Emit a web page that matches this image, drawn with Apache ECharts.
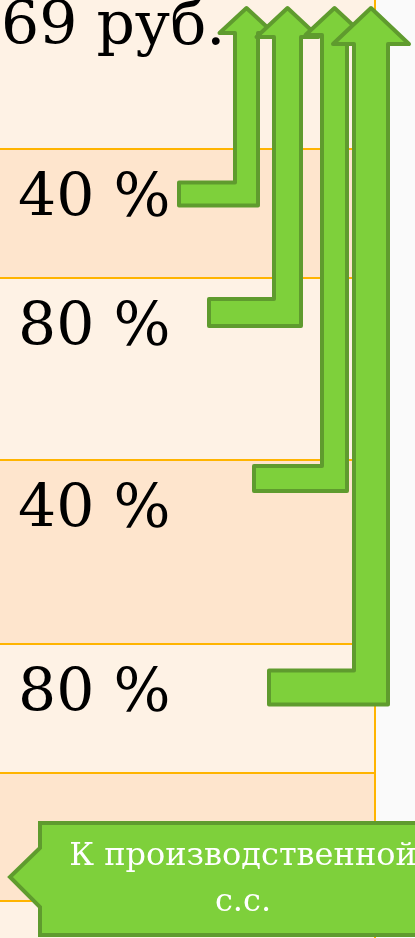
<!DOCTYPE html>
<html>
<head>
<meta charset="utf-8">
<script src="https://cdn.jsdelivr.net/npm/echarts@6/dist/echarts.min.js"></script>
<style>
  html, body { margin: 0; padding: 0; background: #fafafa; }
  #chart { width: 415px; height: 938px; }
</style>
</head>
<body>
<div id="chart"></div>
<script>
// table rows (slide units, y grows downwards)
const rowEdges = [-23, 149, 278, 460, 644, 773, 901, 960]
const rowLabels = ['69 руб.', '40 %', '80 %', '40 %', '80 %', '', '']
const labelIndent = [1, 18, 18, 18, 18, 18, 18]
const tableRight = 375

// bent-up arrows: foot start, foot level, shaft centre, thickness
const arrowFootX = [177, 207, 252, 267]
const arrowFootY = [194, 312.5, 478.5, 687.5]
const arrowShaftX = [246.5, 287.5, 334.5, 371]
const arrowWidth = [27, 31, 29, 38]
const arrowTipY = 6

// callout at the bottom
const calloutBox = [40, 823, 450, 935]
const calloutTip = [10, 877]
const calloutNeck = [848, 907]
const calloutLines = ['К производственной', 'с.с.']
const calloutLineY = [857, 903]
const calloutCenterX = 243

const serif = '"DejaVu Serif", "Liberation Serif", serif'
const cream = '#fef2e5'
const peach = '#fee5cd'
const rule = '#ffb400'
const green = '#7ed03b'
const greenDark = '#5f9b2e'

const chart = echarts.init(document.getElementById('chart'), null, { renderer: 'canvas' })

function rowFill(params, api) {
  const i = params.dataIndex
  const p0 = api.coord([0, rowEdges[i]])
  const p1 = api.coord([tableRight, rowEdges[i + 1]])
  const children = [
    {
      type: 'rect',
      shape: { x: p0[0], y: p0[1], width: p1[0] - p0[0], height: p1[1] - p0[1] },
      style: { fill: i % 2 === 0 ? cream : peach },
    },
  ]
  if (rowLabels[i]) {
    const t = api.coord([labelIndent[i], rowEdges[i] + 47.5])
    children.push({
      type: 'text',
      style: {
        text: rowLabels[i], x: t[0], y: t[1] + 4,
        font: '60px ' + serif, fill: '#000',
        align: 'left', verticalAlign: 'middle',
      },
    })
  }
  return { type: 'group', children }
}

function rowRule(params, api) {
  const i = params.dataIndex
  const p0 = api.coord([0, rowEdges[i]])
  const p1 = api.coord([tableRight, rowEdges[i + 1]])
  return {
    type: 'group',
    children: [
      {
        type: 'line',
        shape: { x1: p0[0], y1: p1[1], x2: p1[0], y2: p1[1] },
        style: { stroke: rule, lineWidth: 2 },
      },
      {
        type: 'line',
        shape: { x1: p1[0], y1: p0[1], x2: p1[0], y2: p1[1] },
        style: { stroke: rule, lineWidth: 2 },
      },
    ],
  }
}

function arrowItem(params, api) {
  const i = params.dataIndex
  const cx = arrowShaftX[i]
  const w = arrowWidth[i]
  const fy = arrowFootY[i]
  const sl = cx - w / 2 + 2
  const sr = cx + w / 2 - 2
  const ft = fy - w / 2 + 2
  const fb = fy + w / 2 - 2
  const hb = arrowTipY + w
  const pts = [
    [arrowFootX[i] + 2, ft], [sl, ft], [sl, hb], [cx - w, hb],
    [cx, arrowTipY + 2], [cx + w, hb], [sr, hb], [sr, fb], [arrowFootX[i] + 2, fb],
  ].map((p) => api.coord(p))
  return {
    type: 'polygon',
    shape: { points: pts },
    style: { fill: green, stroke: greenDark, lineWidth: 4, lineJoin: 'round' },
  }
}

function calloutItem(params, api) {
  const [x0, y0, x1, y1] = calloutBox
  const pts = [
    [x0, y0], [x1, y0], [x1, y1], [x0, y1], [x0, calloutNeck[1]],
    calloutTip, [x0, calloutNeck[0]],
  ].map((p) => api.coord(p))
  const children = [
    {
      type: 'polygon',
      shape: { points: pts },
      style: { fill: green, stroke: greenDark, lineWidth: 4, lineJoin: 'miter' },
    },
  ]
  calloutLines.forEach((txt, k) => {
    const t = api.coord([calloutCenterX, calloutLineY[k]])
    children.push({
      type: 'text',
      style: {
        text: txt, x: t[0], y: t[1], font: '32px ' + serif, fill: '#fff',
        align: 'center', verticalAlign: 'middle',
      },
    })
  })
  return { type: 'group', children }
}

const rowIndex = rowLabels.map((_, i) => i)

chart.setOption({
  animation: false,
  backgroundColor: '#fafafa',
  grid: { left: 0, right: 0, top: 0, bottom: 0 },
  xAxis: { type: 'value', min: 0, max: 415, show: false },
  yAxis: { type: 'value', min: 0, max: 938, inverse: true, show: false },
  series: [
    { type: 'custom', renderItem: rowFill, data: rowIndex, silent: true },
    { type: 'custom', renderItem: rowRule, data: rowIndex, silent: true },
    { type: 'custom', renderItem: arrowItem, data: arrowShaftX.map((_, i) => i), silent: true },
    { type: 'custom', renderItem: calloutItem, data: [0], silent: true },
  ],
})
</script>
</body>
</html>
